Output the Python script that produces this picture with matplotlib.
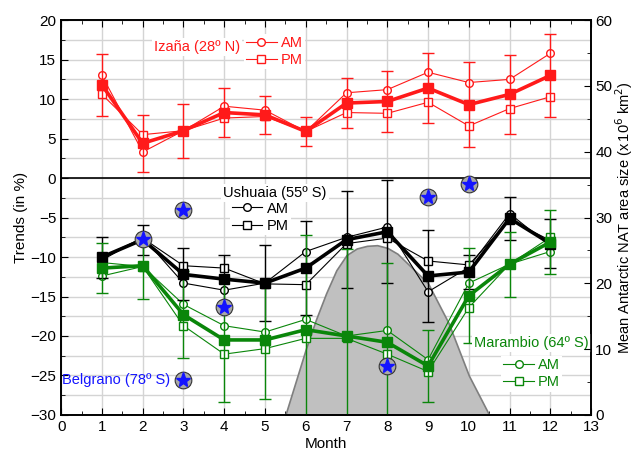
import numpy as np
import matplotlib.pyplot as plt
from matplotlib.ticker import MultipleLocator
from matplotlib.lines import Line2D

plt.rcParams['font.family'] = ['Liberation Sans', 'DejaVu Sans']
plt.rcParams['font.size'] = 10.5

months = np.arange(1, 13)

# Izaña (28º N)
izana_am = [13.0, 3.3, 6.0, 9.1, 8.6, 5.9, 10.8, 11.2, 13.4, 12.1, 12.5, 15.8]
izana_pm = [10.6, 5.5, 6.0, 7.6, 7.8, 5.9, 8.3, 8.2, 9.6, 6.6, 8.8, 10.3]
izana_mean = [11.8, 4.4, 6.0, 8.3, 8.0, 5.9, 9.5, 9.7, 11.4, 9.3, 10.6, 13.0]
izana_err = [3.9, 3.6, 3.4, 3.1, 2.4, 1.8, 3.2, 3.9, 4.4, 5.4, 5.0, 5.3]

# Ushuaia (55º S)
ushu_am = [-10.4, -7.5, -13.3, -14.2, -13.3, -9.3, -7.5, -6.2, -14.4, -11.3, -4.5, -8.6]
ushu_pm = [-10.0, -7.6, -11.1, -11.4, -13.4, -13.5, -8.3, -7.6, -10.5, -11.0, -5.3, -7.9]
ushu_mean = [-10.0, -7.8, -12.2, -12.8, -13.3, -11.4, -7.8, -6.8, -12.4, -11.9, -5.1, -8.3]
ushu_err = [2.6, 1.9, 3.3, 3.0, 4.8, 6.0, 6.1, 6.5, 5.8, 2.2, 2.7, 3.1]

# Marambio (64º S)
mara_am = [-12.4, -11.2, -16.0, -18.7, -19.5, -17.9, -20.0, -19.3, -23.0, -13.3, -10.9, -9.3]
mara_pm = [-10.7, -11.2, -18.7, -22.3, -21.6, -20.3, -20.3, -22.3, -24.5, -16.4, -10.9, -7.5]
mara_mean = [-11.4, -11.1, -17.3, -20.5, -20.5, -19.2, -20.0, -20.8, -23.8, -14.9, -10.9, -8.1]
mara_err = [3.2, 4.2, 5.5, 7.8, 7.5, 12.0, 11.0, 10.0, 4.5, 6.0, 4.1, 4.1]

# Belgrano (78º S)
belg_month = [2, 3, 3, 4, 8, 9, 10]
belg_trend = [-7.7, -4.0, -25.6, -16.3, -23.8, -2.4, -0.8]

# mean Antarctic NAT area (x10^6 km^2)
nat_month = [5.5, 5.75, 6, 6.25, 6.5, 6.75, 7, 7.25, 7.5, 7.75, 8, 8.25,
             8.5, 8.75, 9, 9.25, 9.5, 9.75, 10, 10.25, 10.5]
nat_area = [0, 5, 10, 14.5, 18.5, 22, 24.3, 25.3, 25.7, 25.8, 25.4, 24.5,
            23, 21.5, 20, 17, 14, 10, 6, 3, 0]

fig = plt.figure(figsize=(6.37, 4.58), dpi=100)
ax = fig.add_axes([0.096, 0.094, 0.832, 0.862])
ax2 = ax.twinx()

ax.set_xlim(0, 13)
ax.set_ylim(-30, 20)
ax2.set_ylim(0, 60)

# NAT area in the background, drawn on the right-axis scale
ax.fill_between(nat_month, nat_area, 0, transform=ax2.transData,
                facecolor='#c0c0c0', edgecolor='#7f7f7f', lw=1.2, zorder=1)

ax.axhline(0, color='black', lw=1.2, zorder=2)


def station(am, pm, mean, err, col):
    ax.plot(months, am, '-o', color=col, lw=0.8, ms=5.5, mfc='white', mec=col, zorder=4)
    ax.plot(months, pm, '-s', color=col, lw=0.8, ms=5.5, mfc='white', mec=col, zorder=4)
    ax.errorbar(months, mean, yerr=err, fmt='-s', color=col, lw=2.6, ms=7.5,
                elinewidth=1, capsize=4.5, capthick=1, zorder=5)


station(izana_am, izana_pm, izana_mean, izana_err, '#ff1a1a')
station(ushu_am, ushu_pm, ushu_mean, ushu_err, 'black')
station(mara_am, mara_pm, mara_mean, mara_err, '#0a860a')

ax.plot(belg_month, belg_trend, 'o', ms=12, mfc='#a8a8a8', mec='#333333', mew=0.8, zorder=6)
ax.plot(belg_month, belg_trend, '*', ms=11, color='#1414ff', zorder=7)


# legends: AM / PM entries per station
def station_legend(col, bbox):
    h = [Line2D([], [], color=col, lw=0.8, marker='o', ms=5.5, mfc='white'),
         Line2D([], [], color=col, lw=0.8, marker='s', ms=5.5, mfc='white')]
    lg = ax.legend(h, ['AM', 'PM'], loc='center left', bbox_to_anchor=bbox,
                   frameon=True, fancybox=False, edgecolor='none', facecolor='white',
                   framealpha=1, handlelength=2.1, handletextpad=0.3, borderpad=0.15,
                   borderaxespad=0, labelspacing=0.22, fontsize=10.5)
    for t in lg.get_texts():
        t.set_color(col)
    lg.set_zorder(8)
    ax.add_artist(lg)
    return lg


station_legend('#ff1a1a', (0.345, 0.921))
station_legend('black', (0.318, 0.501))
station_legend('#0a860a', (0.83, 0.104))

bb = dict(facecolor='white', edgecolor='none', pad=1.5)
ax.text(0.175, 0.931, 'Izaña (28º N)', transform=ax.transAxes, color='#ff1a1a',
        fontsize=10.5, va='center', ha='left', bbox=bb, zorder=8)
ax.text(0.306, 0.563, 'Ushuaia (55º S)', transform=ax.transAxes, color='black',
        fontsize=10.5, va='center', ha='left', bbox=bb, zorder=8)
ax.text(0.779, 0.182, 'Marambio (64º S)', transform=ax.transAxes, color='#0a860a',
        fontsize=10.5, va='center', ha='left', bbox=bb, zorder=8)
ax.text(0.205, 0.088, 'Belgrano (78º S)', transform=ax.transAxes, color='#1414ff',
        fontsize=10.5, va='center', ha='right', zorder=8)

# axes styling
ax.xaxis.set_major_locator(MultipleLocator(1))
ax.xaxis.set_minor_locator(MultipleLocator(0.5))
ax.yaxis.set_major_locator(MultipleLocator(5))
ax.yaxis.set_minor_locator(MultipleLocator(2.5))
ax2.yaxis.set_major_locator(MultipleLocator(10))
ax2.yaxis.set_minor_locator(MultipleLocator(5))

ax.set_axisbelow(True)
ax.grid(True, which='major', axis='x', color='#d4d4d4', lw=1)
ax.grid(True, which='both', axis='y', color='#d4d4d4', lw=1)

ax.tick_params(which='both', direction='in', top=True, right=False, labelsize=11)
ax.tick_params(which='major', length=5)
ax.tick_params(which='minor', length=3)
ax2.tick_params(which='both', direction='in', labelsize=11, pad=3)
ax2.tick_params(which='major', length=5)
ax2.tick_params(which='minor', length=3)

for a in (ax, ax2):
    for s in a.spines.values():
        s.set_linewidth(1.2)

ax.set_xlabel('Month', fontsize=11, labelpad=2)
ax.set_ylabel('Trends (in %)', fontsize=11, labelpad=2)
ax2.set_ylabel('Mean Antarctic NAT area size (x$\\,$10$^6$ km$^2$)', fontsize=10.5, labelpad=1)

fig.savefig('out.png', dpi=100)
